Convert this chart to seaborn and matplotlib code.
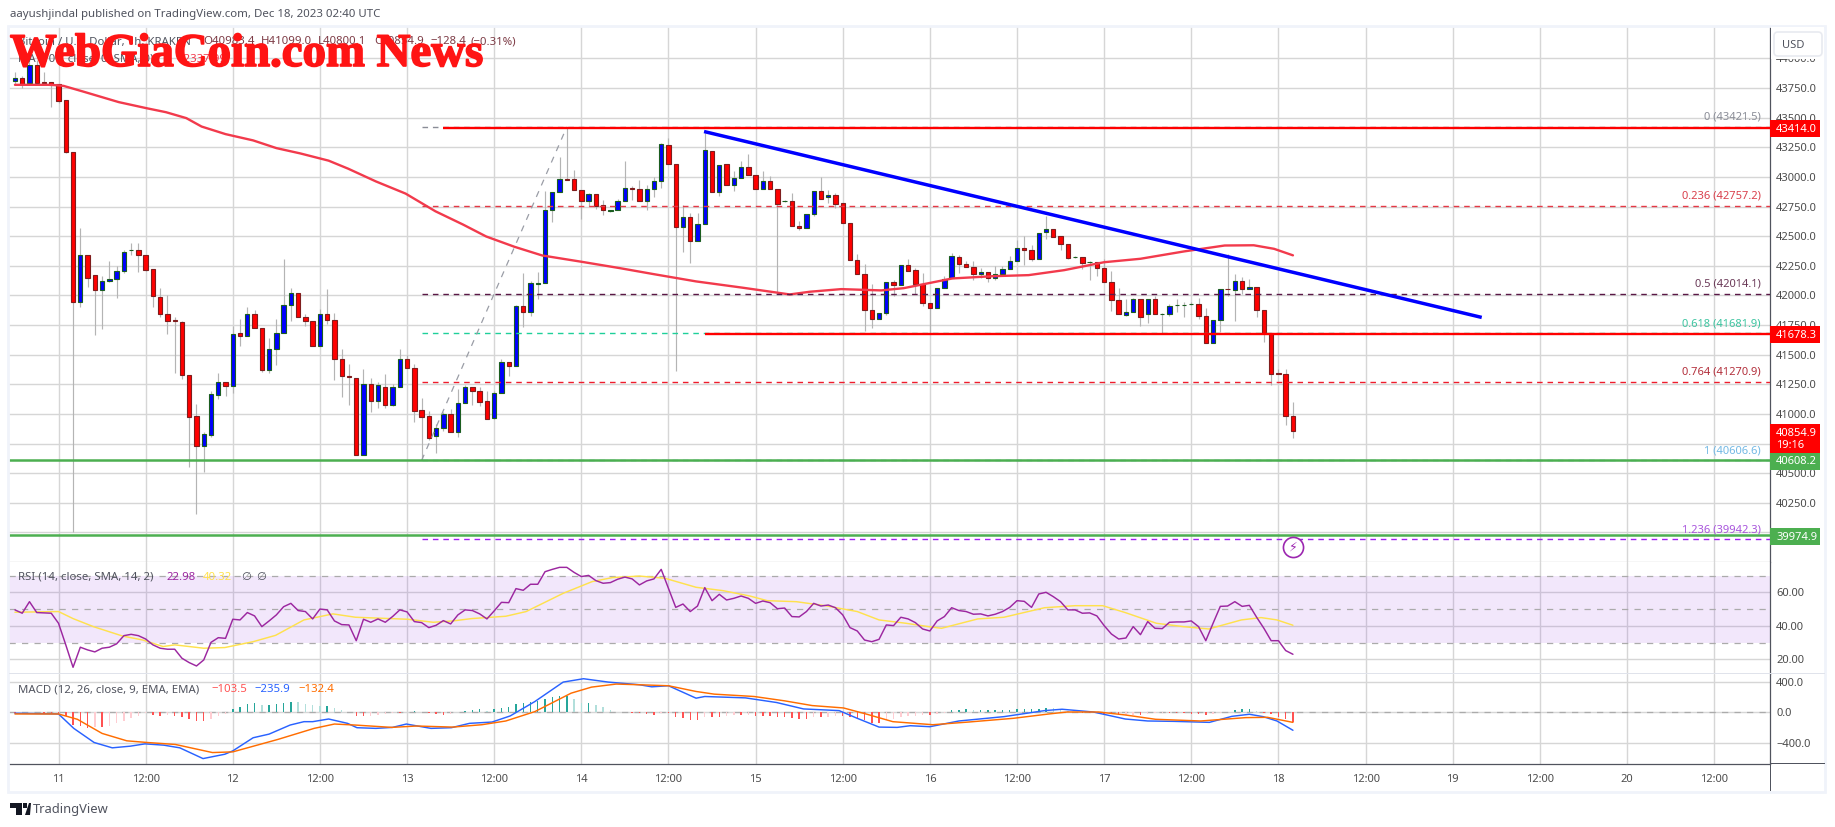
import numpy as np
import matplotlib
matplotlib.use("Agg")
import matplotlib.pyplot as plt
import matplotlib.patheffects as pe
from matplotlib.patches import Rectangle, FancyBboxPatch, Polygon
from matplotlib.transforms import IdentityTransform
from matplotlib.ticker import FixedLocator, FixedFormatter
import seaborn as sns

W, H = 1835, 827

# hourly candles, first one is 6 hours before Dec 11 00:00
hours = list(range(-6, 171))
opens = [43810,43835,43793,43945,43802,43802,43785,43650,43212,41943,42339,42168,42044,42120,42141,42204,42380,42387,42345,42219,
41989,41846,41790,41778,41332,40981,40731,40824,41160,41273,41236,41686,41657,41846,41728,41371,41551,41686,41918,42023,
41820,41784,41573,41846,41795,41467,41320,41307,40655,41256,41110,41223,41076,41223,41467,41391,41029,40979,40815,40883,
40995,40849,41088,41231,41197,41105,40967,41180,41442,41405,41913,41859,42100,42107,42724,42873,42983,42983,42890,42794,
42856,42760,42712,42718,42794,42905,42898,42794,42898,42962,43269,43109,42575,42662,42457,42603,43218,42869,43109,42929,
42987,43083,43016,42895,42966,42898,42795,42797,42589,42566,42688,42884,42831,42848,42780,42612,42300,42182,41879,41800,
41851,42115,42087,42258,42216,42092,41938,41893,42065,42145,42328,42269,42242,42179,42199,42145,42179,42219,42289,42401,
42385,42305,42533,42561,42497,42435,42325,42326,42280,42284,42233,42109,41964,41837,41863,41972,41842,41972,41840,41842,
41920,41920,41925,41930,41829,41598,41792,42056,42048,42124,42053,42073,41879,41686,41342,41337,40983]
highs = [43886,43852,43987,43987,43886,43802,43785,43650,43212,42572,42339,42168,42162,42289,42247,42387,42446,42446,42345,42219,
42059,42000,41815,41781,41332,41082,40846,41192,41343,41273,41741,41798,41901,41873,41728,41638,41804,42303,42065,42023,
41840,41784,41882,42050,41848,41551,41419,41307,41377,41301,41270,41335,41250,41545,41495,41419,41130,41023,40914,41015,
41040,41208,41240,41231,41223,41194,41190,41461,41442,41920,42191,42118,42194,42878,42870,43168,43421,43061,42890,42864,
42856,42808,42720,42816,43137,42920,42976,42934,42996,43285,43328,43109,42766,42699,42699,43370,43218,43100,43109,43046,
43130,43193,43016,43052,43010,42898,42805,42864,42625,42688,42884,42999,42892,42864,42780,42612,42353,42269,42092,41854,
42115,42134,42258,42303,42235,42185,41938,42065,42162,42359,42345,42289,42289,42235,42199,42247,42247,42331,42471,42499,
42429,42528,42667,42561,42505,42435,42335,42326,42290,42284,42303,42204,42065,41966,41980,41972,41972,41991,41850,41924,
41972,41941,41943,41977,41896,41795,42056,42351,42177,42157,42140,42073,41879,41686,41377,41382,41099]
lows = [43776,43751,43785,43793,43785,43591,43625,43204,40007,41901,42067,41665,41714,42109,41975,42185,42345,42196,42202,41901,
41815,41672,41343,41292,40552,40156,40512,40807,41124,41152,41174,41570,41657,41724,41354,41343,41410,41686,41784,41817,
41739,41573,41573,41756,41287,41141,41076,40655,40655,41017,41048,41048,41068,41223,41388,40933,40610,40781,40670,40857,
40849,40807,41088,41074,41068,40958,40958,41180,41320,41405,41733,41826,41966,42107,42617,42873,42975,42886,42648,42757,
42732,42682,42705,42718,42794,42808,42794,42718,42828,42907,43105,41362,42364,42275,42457,42603,42869,42842,42929,42878,
42987,43013,42895,42895,42901,42022,42790,42583,42550,42566,42667,42811,42783,42741,42612,42297,42182,41699,41722,41800,
41834,41994,42087,42204,42008,41910,41686,41893,42065,42145,42193,42238,42129,42143,42112,42134,42179,42219,42289,42255,
42294,42305,42477,42491,42387,42303,42318,42219,42126,42162,42112,41868,41842,41823,41863,41741,41764,41842,41671,41823,
41857,41820,41920,41798,41598,41598,41688,41994,41784,42008,42050,41815,41604,41244,41335,40905,40800]
closes = [43835,43785,43945,43793,43793,43776,43644,43212,41941,42339,42147,42044,42120,42141,42210,42368,42387,42339,42213,41994,
41842,41784,41783,41329,40975,40731,40827,41164,41273,41236,41677,41657,41846,41724,41371,41551,41686,41922,42023,41817,
41784,41573,41846,41792,41467,41320,41312,40655,41256,41110,41240,41076,41223,41467,41388,41026,40975,40798,40883,40995,
40849,41088,41231,41194,41101,40958,41180,41442,41405,41913,41859,42107,42107,42718,42870,42983,42977,42886,42794,42856,
42757,42718,42718,42795,42907,42898,42794,42898,42968,43277,43109,42575,42662,42457,42603,43227,42869,43100,42929,42991,
43083,43013,42895,42966,42901,42772,42800,42583,42566,42688,42884,42811,42848,42774,42612,42297,42182,41876,41800,41854,
42115,42087,42258,42204,42092,41935,41893,42065,42141,42334,42263,42238,42177,42199,42145,42179,42225,42292,42401,42381,
42305,42528,42561,42491,42435,42314,42328,42272,42284,42230,42112,41960,41842,41863,41972,41821,41972,41842,41842,41910,
41922,41922,41927,41825,41598,41795,42056,42050,42124,42053,42073,41876,41686,41337,41335,40983,40855]

# moving average, read at its bends
ma_hours = [-6,-1,0.7,3.4,8.3,12.1,14.8,17.6,19.7,23,26.8,30,33.3,37.2,39.9,43.7,47.8,51.9,55.7,58.9,62.8,66.6,72,77.3,82,87.8,94.2,100.7,103.5,107.8,113.3,116.4,123.1,128.7,133.6,138.5,144,149,155,160.6,164.6,167.4,170]
ma_values = [43777,43777,43768,43720,43631,43580,43546,43496,43425,43361,43308,43243,43198,43137,43069,42962,42859,42710,42598,42497,42410,42337,42284,42230,42179,42118,42065,42008,42031,42053,42042,42061,42143,42162,42171,42213,42280,42309,42371,42421,42423,42393,42338]

# RSI, one per candle
rsi_values = [49.5,47.5,54.4,47.9,47.7,47.5,41.5,28.6,15.2,27.2,25.6,24.4,26.6,27.2,29.2,34.1,34.9,34.1,32.1,28.6,
26.6,26.0,26.0,20.6,18.0,16.0,19.6,30.1,32.9,32.5,43.9,43.5,47.9,45.9,39.5,42.9,46.5,51.4,53.4,49.1,
48.5,44.1,50.0,49.5,42.9,40.7,40.5,31.1,43.9,42.1,44.1,42.1,45.5,49.5,48.3,42.5,41.9,38.9,40.3,43.1,
41.1,46.5,49.5,49.1,47.1,44.1,48.9,54.0,53.8,62.2,61.2,64.8,64.8,72.3,73.7,74.9,74.9,71.9,69.4,70.1,
67.0,65.4,65.8,67.8,69.1,68.0,64.4,66.8,68.0,73.7,62.4,51.0,53.0,48.5,51.8,62.8,55.0,58.8,55.4,56.4,
57.8,56.4,53.4,54.8,53.8,50.2,50.6,45.5,45.3,48.5,53.4,51.8,52.4,50.8,46.5,38.9,36.9,31.5,30.5,31.9,
40.5,40.1,45.1,44.1,41.9,38.1,36.9,42.9,45.5,50.8,49.1,48.5,46.9,47.1,45.9,46.9,48.5,51.0,55.0,54.6,
51.0,59.0,60.0,57.4,54.4,49.5,49.5,47.5,47.7,45.9,40.1,35.1,32.1,32.7,39.5,34.7,42.5,38.5,38.3,42.1,
42.3,42.3,42.9,39.5,31.1,41.5,51.6,51.8,54.4,51.6,52.2,45.1,38.5,31.1,31.1,25.2,22.98]
rsi_ma_hours = [-6,0,2,4.8,8.8,11.6,14.4,16,20,22.9,26.8,29.9,33.8,37.8,40.9,48.1,51.6,54.3,56.9,61.6,64.4,69.5,73.5,76.3,80,83.5,87.8,91.5,95.2,97.6,101.6,105.6,110,113,116.7,119.8,121.6,126.6,130.2,135.8,140,143.8,146.9,151.2,154.9,158.4,162.9,165.6,167.8,170]
rsi_ma_values = [48.1,48.5,44.3,39.5,33.9,31.5,27.6,28.6,26.6,27,30.5,34.3,43.5,47.1,45.1,43.9,42.1,42.9,44.3,45.7,48.5,59.4,66.4,68.8,69.7,68.4,63,61,57.8,55,54.4,52,48.5,43.5,41.5,39.5,38.5,44.1,45.1,50.8,52,52,47.9,41.5,39.5,38.1,43.5,44.9,43.5,40.32]

# MACD lines, read at their bends
macd_hours = [-6,0,2.1,4.9,7.4,9.9,11.9,14.5,16.7,19.9,22.9,24,26.8,29,31.9,33.8,35,37.2,39.8,41.1,43.7,46,47.9,51.3,54.1,56.6,59.7,62.2,65.6,69.5,72.3,75.7,80,81.7,84,87.8,89,94.6,98.9,102.6,107.5,110,113,115.5,117.3,120,124,130.2,135.8,138.2,142.5,146.9,150,153.6,158.5,161.6,164,165.9,167.8,170]
macd_values = [-13,-22,-211,-396,-466,-444,-414,-431,-466,-607,-550,-506,-334,-286,-167,-123,-123,-88,-145,-202,-211,-198,-154,-211,-202,-145,-128,-48,141,396,440,396,361,334,348,185,207,189,128,44,22,-79,-194,-198,-176,-189,-114,-57,22,40,4,-88,-114,-119,-132,-53,-26,-57,-114,-235.9]
signal_hours = [-6,0,2.6,6,9.4,12.2,16.1,21.2,24,30.2,35.2,38,40.8,45.9,49.3,54.3,58.3,61.6,65.6,70.6,73.4,76.8,80,84,87.8,90.3,95.8,100,103.8,108.1,111.2,114.9,120.4,125.3,131.5,136.4,138.9,143.2,146.9,151.1,157.3,163.5,166.5,170]
signal_values = [-22,-22,-92,-277,-374,-396,-422,-528,-519,-356,-211,-154,-167,-198,-180,-194,-163,-114,9,251,330,370,361,348,273,238,207,150,88,57,-22,-123,-163,-128,-79,-22,4,4,-35,-92,-114,-70,-66,-132.4]
hist_values = [-4,4,4,4,-4,-4,-4,-48,-167,-176,-202,-189,-189,-176,-145,-110,-75,-48,-13,
-35,-48,-40,-48,-57,-92,-110,-114,-88,-48,-22,44,66,106,123,97,97,114,128,136,132,114,101,88,88,57,31,9,
-48,-48,-44,-31,-26,-13,-13,4,22,9,-9,-26,-31,-18,9,22,35,44,22,44,62,75,110,123,136,154,172,202,216,
216,180,119,119,92,66,31,9,9,-4,-13,-26,-35,-13,-13,-57,-70,-101,-101,-57,-57,-57,-48,-40,-40,-31,
-48,-53,-53,-57,-62,-70,-84,-84,-66,-66,-57,-48,-48,-66,-79,-101,-141,-141,-101,-84,-66,-53,-44,-35,-40,-26,-4,
31,31,48,31,31,31,31,31,35,44,44,44,48,57,53,35,22,9,-4,-9,-13,-18,-26,-40,-35,-31,-31,-26,-13,-4,-9,-13,-13,-18,-26,-35,
-18,-4,9,26,40,44,22,-4,-22,-57,-92,-125]

fib_levels = [43421.5, 42757.2, 42014.1, 41681.9, 41270.9, 40606.6, 39942.3]
fib_ratios = ["0", "0.236", "0.5", "0.618", "0.764", "1", "1.236"]
fib_colors = ["#8a8d97", "#e53945", "#5a1846", "#1fd09a", "#ef1c2c", "#4f9fdc", "#a020f0"]
fib_text_colors = ["#8a8d97", "#d9404c", "#6b3a58", "#3cc4a0", "#b3303c", "#72b8e4", "#a855dc"]
fib_label_y = [117, 196, 284, 324, 372, 451, 530]

tick_hours = list(range(0, 229, 12))
tick_names = ["11", "12:00", "12", "12:00", "13", "12:00", "14", "12:00", "15", "12:00", "16", "12:00",
              "17", "12:00", "18", "12:00", "19", "12:00", "20", "12:00"]

price_ticks = [44000, 43750, 43500, 43250, 43000, 42750, 42500, 42250, 42000, 41750, 41500, 41250, 41000, 40750, 40500, 40250, 40000, 39750]
rsi_ticks = [60, 40, 20]
macd_ticks = [400, 0, -400]

sns.set_theme(style="white")
plt.rcParams["font.family"] = ["Noto Sans", "DejaVu Sans"]
plt.rcParams["font.size"] = 8
TEXT = "#50535e"
GRID = "#d6d6d6"

fig = plt.figure(figsize=(W / 100, H / 100), dpi=100, facecolor="white")


def make_axes(top, bottom):
    ax = fig.add_axes([9 / W, 1 - bottom / H, (1770 - 9) / W, (bottom - top) / H])
    ax.set_xlim(-6.82, 235.7)
    ax.yaxis.tick_right()
    ax.set_axisbelow(True)
    ax.xaxis.set_major_locator(FixedLocator(tick_hours))
    ax.grid(True, color=GRID, lw=1.0)
    ax.tick_params(axis="both", length=0, labelsize=8, colors="#4c4c4c", pad=4.5)
    ax.tick_params(axis="x", labelbottom=False)
    for s in ["left", "top", "bottom"]:
        ax.spines[s].set_visible(False)
    ax.spines["right"].set_color(TEXT)
    ax.spines["right"].set_linewidth(0.9)
    return ax


ax1 = make_axes(27, 562)
ax2 = make_axes(562, 674)
ax3 = make_axes(674, 764)

# main pane
ax1.set_ylim(39760, 44265)
ax1.set_yticks(price_ticks)
ax1.set_yticklabels([f"{t:.1f}" if t != 39750 else "" for t in price_ticks])

ax1.vlines(hours, lows, highs, color="#b4b4b4", lw=0.85, zorder=2)
o = np.array(opens)
c = np.array(closes)
up = c >= o
ax1.bar(np.array(hours)[up], (c - o)[up], bottom=o[up], width=0.6, color="#0000ff", edgecolor="#1b5e20", linewidth=0.8, zorder=3)
ax1.bar(np.array(hours)[~up], (o - c)[~up], bottom=c[~up], width=0.6, color="#ff0000", edgecolor="#7f1d1d", linewidth=0.8, zorder=3)

sns.lineplot(x=ma_hours, y=ma_values, ax=ax1, color="#f23a4c", lw=1.7, errorbar=None, estimator=None, sort=False, zorder=4, legend=False)

for level, color in zip(fib_levels, fib_colors):
    ax1.hlines(level, 50, 235.7, color=color, lw=1.0, linestyles=(0, (4, 3.5)), zorder=4)
ax1.plot([50, 70], [40606.6, 43421.5], color="#9a9da6", lw=0.9, ls=(0, (5, 5)), zorder=4)

ax1.hlines(43414, 53, 235.7, color="#ff0000", lw=1.7, zorder=5)
ax1.hlines(41678.3, 89, 235.7, color="#ff0000", lw=1.7, zorder=5)
ax1.hlines(40608.2, -6.82, 235.7, color="#4caf50", lw=1.8, zorder=5)
ax1.hlines(39974.9, -6.82, 235.7, color="#4caf50", lw=1.8, zorder=5)
ax1.plot([88.9, 196], [43383, 41814], color="#0000ff", lw=2.5, solid_capstyle="butt", zorder=6)

ax1.scatter([170], [39878], s=210, facecolor="white", edgecolor="#9c27b0", linewidth=1.2, zorder=6)
ax1.text(170, 39878, "\u26a1", color="#9c27b0", fontsize=9, ha="center", va="center", family="DejaVu Sans", zorder=7)

# RSI pane
ax2.set_ylim(11.2, 78.1)
ax2.set_yticks(rsi_ticks)
ax2.set_yticklabels([f"{t:.2f}" for t in rsi_ticks])
ax2.axhspan(30, 70, color="#8a2be2", alpha=0.11, lw=0, zorder=1)
for level in [70, 50, 30]:
    ax2.axhline(level, color="#ababab", lw=0.9, ls=(0, (5, 5)), zorder=1.5)
sns.lineplot(x=hours, y=rsi_values, ax=ax2, color="#9c27a0", lw=1.05, errorbar=None, estimator=None, zorder=4, legend=False)
sns.lineplot(x=rsi_ma_hours, y=rsi_ma_values, ax=ax2, color="#ffe14d", lw=1.05, errorbar=None, estimator=None, zorder=3, legend=False)

# MACD pane
ax3.set_ylim(-678, 502)
ax3.set_yticks(macd_ticks)
ax3.set_yticklabels(["400.0", "0.0", "\u2212400.0"])
ax3.axhline(0, color="#ababab", lw=0.9, ls=(0, (5, 5)), zorder=1.5)
hist_colors = []
for i, v in enumerate(hist_values):
    prev = hist_values[i - 1] if i else 0
    if v >= 0:
        hist_colors.append("#26a69a" if v >= prev else "#b2dfdb")
    else:
        hist_colors.append("#ff5252" if v <= prev else "#ffcdd2")
ax3.bar(hours, hist_values, width=0.2, color=hist_colors, linewidth=0, zorder=2)
sns.lineplot(x=macd_hours, y=macd_values, ax=ax3, color="#2962ff", lw=1.05, errorbar=None, estimator=None, zorder=3, legend=False)
sns.lineplot(x=signal_hours, y=signal_values, ax=ax3, color="#ff6d00", lw=1.05, errorbar=None, estimator=None, zorder=4, legend=False)
ax3.xaxis.set_major_formatter(FixedFormatter(tick_names))
ax3.tick_params(axis="x", labelbottom=True, labelsize=8, pad=7, colors="#4c4c4c")
ax3.spines["bottom"].set_visible(True)
ax3.spines["bottom"].set_color(TEXT)
ax3.spines["bottom"].set_linewidth(0.9)


# everything below is placed in image pixels
def label(x, y, s, color=TEXT, size=8, ha="left", **kw):
    return fig.text(x / W, 1 - y / H, s, color=color, fontsize=size, ha=ha, va="center", **kw)


def box(x0, y0, x1, y1, color):
    fig.add_artist(Rectangle((x0, H - y1), x1 - x0, y1 - y0, transform=IdentityTransform(), color=color, lw=0, zorder=3))


# frame around the chart
fig.add_artist(Rectangle((8, H - 792), 1817, 766, transform=IdentityTransform(), fill=False, edgecolor="#f0f3fa", lw=2.0, zorder=1))
fig.add_artist(Rectangle((1770, H - 764), 55, 0.9, transform=IdentityTransform(), color=TEXT, lw=0, zorder=1))
fig.add_artist(Rectangle((1770, H - 791), 1, 27, transform=IdentityTransform(), color=TEXT, lw=0, zorder=1))
fig.add_artist(Rectangle((1770, H - 674), 55, 1, transform=IdentityTransform(), color="#e0e3eb", lw=0, zorder=1))
fig.add_artist(Rectangle((9, H - 674), 1761, 1, transform=IdentityTransform(), color="#e0e3eb", lw=0, zorder=1))

label(10, 15, "aayushjindal published on TradingView.com, Dec 18, 2023 02:40 UTC", color=TEXT, size=8.25)

# legend rows
dark = "#7d3b45"
label(18, 42, "Bitcoin / U.S. Dollar, 1h, KRAKEN", color=TEXT, size=8.2)
for x, s in zip([203, 261, 318, 374, 430, 470], ["O40983.4", "H41099.0", "L40800.1", "C40854.9", "\u2212128.4", "(\u22120.31%)"]):
    label(x, 42, s, color=dark, size=8.2)
label(18, 59, "MA (100, close, 0, SMA, 0)", color=TEXT, size=8.2)
label(178, 59, "42337.99", color="#f23a4c", size=8.2)

label(18, 577, "RSI (14, close, SMA, 14, 2)", color=TEXT, size=8.2)
label(166, 577, "22.98", color="#9c27a0", size=8.2)
label(203, 577, "40.32", color="#ffe14d", size=8.2)
label(241, 577, "\u2205", color=TEXT, size=8.2)
label(256, 577, "\u2205", color=TEXT, size=8.2)
label(18, 690, "MACD (12, 26, close, 9, EMA, EMA)", color=TEXT, size=8.2)
label(211, 690, "\u2212103.5", color="#ff5252", size=8.2)
label(254, 690, "\u2212235.9", color="#2962ff", size=8.2)
label(298, 690, "\u2212132.4", color="#ff6d00", size=8.2)

mark = label(10, 55, "WebGiaCoin.com News", color="#ff1414", size=33.7, family="Liberation Serif", fontweight="bold")
mark.set_path_effects([pe.withStroke(linewidth=1.2, foreground="#ff1414")])

# fib labels
for ratio, level, color, y in zip(fib_ratios, fib_levels, fib_text_colors, fib_label_y):
    label(1761, y, f"{ratio} ({level:.1f})", color=color, size=8, ha="right")

# USD button, the scale is cut off behind it
box(1771, 27, 1824, 59, "white")
fig.add_artist(FancyBboxPatch((1776, H - 54), 44, 20, boxstyle="round,pad=2,rounding_size=4", transform=IdentityTransform(),
                              facecolor="white", edgecolor="#e8eaf0", lw=1.2, zorder=3))
label(1782, 45, "USD", color=TEXT, size=8)

# price tags on the axis
box(1770, 120, 1820, 137, "#ff0000")
label(1776, 129, "43414.0", color="white", size=8, fontweight="bold")
box(1770, 326, 1820, 343, "#ff0000")
label(1776, 335, "41678.3", color="white", size=8, fontweight="bold")
box(1770, 424, 1820, 453, "#ff0000")
label(1776, 433, "40854.9", color="white", size=8, fontweight="bold")
label(1776, 446, "19:16", color="white", size=8, fontweight="bold")
box(1770, 453, 1820, 470, "#4caf50")
label(1776, 462, "40608.2", color="white", size=8, fontweight="bold")
box(1770, 528, 1820, 545, "#4caf50")
label(1776, 537, "39974.9", color="white", size=8, fontweight="bold")

# TradingView logo, bottom left
logo = [[(10, 803), (22, 803), (22, 815), (16, 815), (16, 808), (10, 808)],
        [(23, 803), (27, 803), (27, 808), (23, 808)],
        [(25, 815), (29, 803), (31, 803), (31, 803), (30, 815)]]
for pts in logo:
    fig.add_artist(Polygon([(x, H - y) for x, y in pts], transform=IdentityTransform(), color="#131722", lw=0, zorder=3))
label(33, 809, "TradingView", color=TEXT, size=9.3)

fig.savefig("out.png", dpi=100, facecolor="white")
